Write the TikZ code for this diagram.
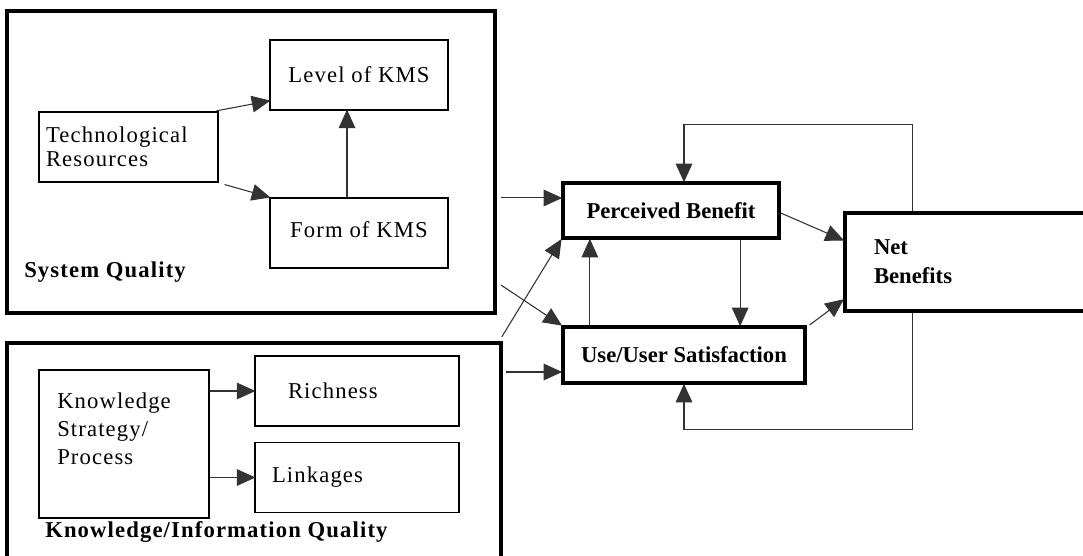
\documentclass[tikz,border=0pt]{standalone}
\usepackage{fontspec}
\setmainfont{Liberation Serif}
\newfontfamily\widefont{Liberation Serif}[LetterSpace=5]
\usetikzlibrary{arrows.meta}
\newcommand\diagfont{\widefont\fontsize{17}{18}\selectfont}
\newcommand\diagbold{\widefont\fontsize{17}{18}\selectfont\bfseries}
\newcommand\keyfont{\fontsize{17}{18}\selectfont\bfseries}
\tikzset{
  inbox/.style={draw, line width=1.3pt, inner sep=0pt, font=\diagfont},
  outbox/.style={draw, line width=3.2pt, inner sep=0pt},
  keybox/.style={draw, line width=3.2pt, inner sep=0pt, font=\keyfont},
  conn/.style={draw, line width=0.8pt, black!80},
  arr/.style={conn, -{Triangle[length=14pt,width=12.5pt]}, shorten >=-1pt},
}
\begin{document}
\begin{tikzpicture}[x=0.75pt,y=-0.75pt]
\useasboundingbox (0,0) rectangle (1083,556);

% system quality
\node[outbox, minimum width=488*0.75pt, minimum height=302*0.75pt] (sq) at (251,162) {};
\node[font=\diagbold, anchor=base west, inner sep=0pt] (sqtxt) at (24,278) {System Quality};
\node[inbox, minimum width=178*0.75pt, minimum height=70*0.75pt] (lvl) at (359,75) {Level of KMS};
\node[inbox, line width=1.8pt, minimum height=70*0.75pt, text width=165*0.75pt, inner xsep=7*0.75pt,
      align=left] (tech) at (128.5,147) {Technological\\Resources};
\node[inbox, minimum width=178*0.75pt, minimum height=70*0.75pt] (form) at (359,233) {\raisebox{5pt}{Form of KMS}};

% knowledge/information quality
\node[outbox, minimum width=494*0.75pt, minimum height=222*0.75pt] (kiq) at (254,454) {};
\node[font=\diagbold, anchor=base west, inner sep=0pt] (kiqtxt) at (45,537) {Knowledge/Information Quality};
\node[inbox, line width=1.8pt, minimum width=170*0.75pt, minimum height=148*0.75pt] (ksp) at (124,444) {};
\node[font=\widefont\fontsize{17}{21}\selectfont, align=left, anchor=north west, inner sep=0pt] (ksptxt) at (57,393)
  {Knowledge\\Strategy/\\Process};
\node[inbox, minimum height=70*0.75pt, text width=138*0.75pt, inner xsep=33*0.75pt, align=left] (rich) at (357,391) {Richness};
\node[inbox, minimum height=70*0.75pt, text width=170*0.75pt, inner xsep=17*0.75pt, align=left] (link) at (357,477.5) {Linkages};

% success measures
\node[keybox, minimum width=216*0.75pt, minimum height=55*0.75pt] (pb) at (671,210.5) {Perceived Benefit};
\node[keybox, minimum width=242*0.75pt, minimum height=56*0.75pt] (uss) at (684,355) {Use/User Satisfaction};
\node[keybox, minimum height=98*0.75pt, text width=187*0.75pt, inner xsep=29*0.75pt, align=left,
      font=\fontsize{17}{22}\selectfont\bfseries] (nb) at (967.5,262) {Net\\Benefits};

% inside the quality boxes
\path[arr] ([xshift=-2pt]tech.north east) -- ([yshift=7.5pt]lvl.south west);
\path[arr] ([xshift=4pt,yshift=-1pt]tech.south east) -- (form.north west);
\path[arr] ([xshift=-9pt]form.north) -- ([xshift=-9pt]lvl.south);
\path[arr] (ksp.east |- rich.west) -- (rich.west);
\path[arr] (ksp.east |- link.west) -- (link.west);

% into the model
\coordinate (pbin) at ([yshift=9.4pt]pb.west);
\coordinate (ussin) at ([yshift=-12.75pt]uss.west);
\path[arr] ([xshift=3pt]sq.east |- pbin) -- (pbin);
\path[arr] ([xshift=3pt,yshift=22.5pt]sq.south east) -- (uss.north west);
\path[arr] ([xshift=-1pt,yshift=3pt]kiq.north east) -- (pb.south west);
\path[arr] ([xshift=2pt]kiq.east |- ussin) -- (ussin);

% between the measures
\path[arr] ([xshift=21.75pt]uss.north west) -- ([xshift=21.75pt]uss.north west |- pb.south);
\path[arr] ([xshift=-30.75pt]pb.south east) -- ([xshift=-30.75pt]pb.south east |- uss.north);
\path[arr] ([yshift=-2pt]pb.east) -- ([yshift=16.5pt]nb.west);
\path[arr] ([xshift=2pt]uss.north east) -- ([yshift=-28.5pt]nb.west);

% feedback
\path[arr] ([xshift=-41.6pt]nb.north) -- ++(0,-86) -| ([xshift=9.75pt]pb.north);
\path[arr] ([xshift=-41.6pt]nb.south) -- ++(0,116) -| (uss.south);
\end{tikzpicture}
\end{document}
